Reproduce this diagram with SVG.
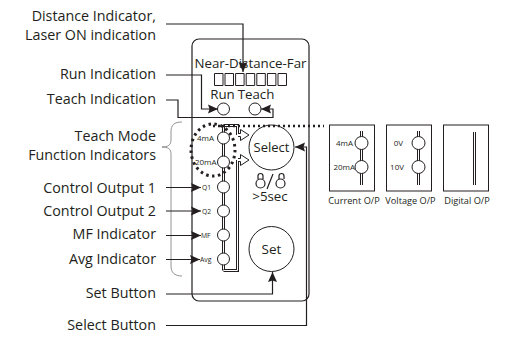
<svg xmlns="http://www.w3.org/2000/svg" width="510" height="338" viewBox="0 0 510 338">
<defs>
<marker id="a" markerUnits="userSpaceOnUse" markerWidth="11" markerHeight="11" refX="10" refY="5.500" orient="auto"><path d="M0 1L10 5.500L0 10L1.500 5.500Z" fill="#231f20"/></marker>
</defs>
<style>
text{font-family:"Open Sans","Noto Sans","Liberation Sans",sans-serif;fill:#231f20}
.l{font-size:14.3px;text-anchor:end}
.d{font-size:13.3px;text-anchor:middle}
.s{font-size:8px;text-anchor:end}
.q{font-size:6.8px;text-anchor:start}
.c{font-size:9.2px;text-anchor:middle}
.o{fill:#fff;stroke:#231f20;stroke-width:1}
.b{fill:#fff;stroke:#231f20;stroke-width:1}
.n{fill:none;stroke:#231f20;stroke-width:1.200}
.w{fill:none;stroke:#231f20;stroke-width:1.200}
.k{fill:none;stroke:#231f20;stroke-width:3}
.i{fill:none;stroke:#fff;stroke-width:1}
.t{fill:none;stroke:#231f20;stroke-width:2.500;stroke-dasharray:2 3}
.h{fill:#fff;stroke:#231f20;stroke-width:1;stroke-linejoin:miter}
</style>
<rect id="body" x="192" y="39" width="117" height="262" rx="7" fill="#fff" stroke="#231f20" stroke-width="1.200"/>
<path id="brace" d="M182 122C174 122 171 125 171 132V140C171 145 168 147 162 147C168 147 171 149 171 154V266C171 272 174 276 182 276" fill="none" stroke="#77787b" stroke-width="0.800"/>
<g id="rails">
<path class="k" d="M223.500 125.500V270.500"/><path class="i" d="M223.500 125.500V270.500"/>
<path class="k" d="M223.500 270.500H237.500V160"/><path class="i" d="M223.500 270.500H237.500V160"/>
<path class="k" d="M223.500 125.500H237.500V135"/><path class="i" d="M223.500 125.500H237.500V135"/>
</g>
<g id="display">
<text class="d" x="250.500" y="68">Near-Distance-Far</text>
<path class="n" style="stroke-width:1" d="M214.500 73.500h8.500v12h-8.500zM225 73.500h8.500v12h-8.500zM235.600 73.500h8.500v12h-8.500zM246.200 73.500h8.500v12h-8.500zM256.800 73.500h8.500v12h-8.500zM267.400 73.500h8.500v12h-8.500zM278 73.500h8.500v12h-8.500z"/>
<text class="d" x="222.500" y="99">Run</text><text class="d" x="256" y="99">Teach</text>
</g>
<g id="run-led"><circle class="o" cx="223.500" cy="109" r="6"/></g>
<g id="teach-led"><circle class="o" cx="255" cy="109" r="6"/></g>
<g id="led-4ma"><circle class="o" cx="223.500" cy="138" r="6"/><text class="s" x="214" y="141">4mA</text></g>
<g id="led-20ma"><circle class="o" cx="223.500" cy="162" r="6"/><text class="s" x="216.500" y="165">20mA</text></g>
<g id="led-q1"><circle class="o" cx="223.500" cy="187" r="6"/><text class="q" x="202" y="190">Q1</text></g>
<g id="led-q2"><circle class="o" cx="223.500" cy="211" r="6"/><text class="q" x="202" y="214">Q2</text></g>
<g id="led-mf"><circle class="o" cx="223.500" cy="235" r="6"/><text class="q" x="201" y="238">MF</text></g>
<g id="led-avg"><circle class="o" cx="223.500" cy="259" r="6"/><text class="q" x="200" y="262">Avg</text></g>
<g id="select"><circle class="o" cx="271.500" cy="147.500" r="22.500"/><text x="271.500" y="152" style="font-size:13px;text-anchor:middle">Select</text></g>
<g id="set"><circle class="o" cx="271.500" cy="249" r="22.500"/><text x="271.500" y="254" style="font-size:13.500px;text-anchor:middle">Set</text></g>
<g id="hint">
<path class="w" d="M258 179v-3a2.500 2.500 0 0 1 5 0v3M256 183.500a4.500 4.500 0 1 0 9 0a4.500 4.500 0 1 0-9 0M279 179v-3a2.500 2.500 0 0 1 5 0v3M276 183.500a4.500 4.500 0 1 0 9 0a4.500 4.500 0 1 0-9 0M267 189L273 174"/>
<text class="d" x="270" y="201">&gt;5sec</text>
</g>
<g id="connectors">
<path class="t" d="M213 126H324"/>
<ellipse cx="213" cy="150" rx="22" ry="26" fill="none" stroke="#231f20" stroke-width="3" stroke-dasharray="2.500 3.500"/>
<path class="h" d="M238 133.500H240.500V129.500L249 135L240.500 140.500V136.500H238"/>
<path class="h" d="M238 158.500H240.500V154.500L249 160L240.500 165.500V161.500H238"/>
<path class="n" d="M166 24H243V72" marker-end="url(#a)"/>
<path class="n" d="M166 75H201.500V109H218" marker-end="url(#a)"/>
<path class="n" d="M166 100H178V117.500H273V109H261" marker-end="url(#a)"/>
<path class="n" d="M166 187.500H201" marker-end="url(#a)"/>
<path class="n" d="M166 211H201" marker-end="url(#a)"/>
<path class="n" d="M166 235.500H201" marker-end="url(#a)"/>
<path class="n" d="M166 259.500H200" marker-end="url(#a)"/>
<path class="n" d="M166 294H272.500V272" marker-end="url(#a)"/>
<path class="n" d="M166 325.500H306.500V147H295" marker-end="url(#a)"/>
</g>
<g id="labels">
<text class="l" x="156" y="21">Distance Indicator,</text>
<text class="l" x="156" y="40">Laser ON indication</text>
<text class="l" x="156" y="79">Run Indication</text>
<text class="l" x="156" y="104">Teach Indication</text>
<text class="l" x="156" y="141">Teach Mode</text>
<text class="l" x="156" y="160">Function Indicators</text>
<text class="l" x="156" y="193">Control Output 1</text>
<text class="l" x="156" y="216">Control Output 2</text>
<text class="l" x="156" y="239">MF Indicator</text>
<text class="l" x="156" y="264">Avg Indicator</text>
<text class="l" x="156" y="298">Set Button</text>
<text class="l" x="156" y="330">Select Button</text>
</g>
<g id="current-op">
<rect class="b" x="329.500" y="125" width="45" height="66"/>
<path class="k" d="M361.500 131V185"/><path class="i" d="M361.500 131V185"/>
<circle class="o" cx="361.500" cy="143" r="6.500"/><circle class="o" cx="361.500" cy="167" r="6.500"/>
<text class="s" x="353" y="146">4mA</text><text class="s" x="355" y="170">20mA</text>
<text class="c" x="354" y="204">Current O/P</text>
</g>
<g id="voltage-op">
<rect class="b" x="386.500" y="125" width="45" height="66"/>
<path class="k" d="M418.500 131V185"/><path class="i" d="M418.500 131V185"/>
<circle class="o" cx="418.500" cy="143" r="6.500"/><circle class="o" cx="418.500" cy="167" r="6.500"/>
<text x="403" y="146" class="s">0V</text><text x="404" y="170" class="s">10V</text>
<text class="c" x="410.500" y="204">Voltage O/P</text>
</g>
<g id="digital-op">
<rect class="b" x="443.500" y="125" width="45" height="66"/>
<path class="k" d="M474.500 132V185"/><path class="i" d="M474.500 132V185"/>
<text class="c" x="467" y="204">Digital O/P</text>
</g>
</svg>
